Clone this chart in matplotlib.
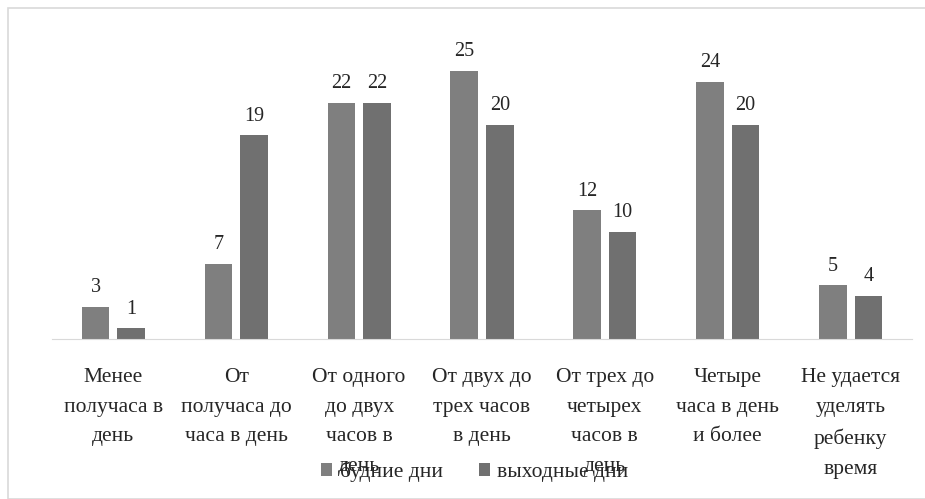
import matplotlib.pyplot as plt
import numpy as np
from matplotlib.patches import Rectangle

categories = [
    "Менее\nполучаса в\nдень",
    "От\nполучаса до\nчаса в день",
    "От одного\nдо двух\nчасов в\nдень",
    "От двух до\nтрех часов\nв день",
    "От трех до\nчетырех\nчасов в\nдень",
    "Четыре\nчаса в день\nи более",
    "Не удается\nуделять\nребенку\nвремя",
]
weekdays = [3, 7, 22, 25, 12, 24, 5]
weekends = [1, 19, 22, 20, 10, 20, 4]
series_names = ["будние дни", "выходные дни"]

plt.rcParams["font.family"] = "serif"
plt.rcParams["font.serif"] = ["Liberation Serif", "Times New Roman", "DejaVu Serif"]

fig = plt.figure(figsize=(9.25, 4.99), dpi=100)
fig.patches.append(Rectangle((8 / 925, 0), 1, (499 - 8) / 499, transform=fig.transFigure,
                             fill=False, edgecolor="#d9d9d9", linewidth=1.2))

# axes in pixels: x 52..912, baseline y=339
ax = fig.add_axes([52 / 925, (499 - 339) / 499, 860 / 925, 300 / 499])
x = np.arange(len(categories))
w = 0.225
gap = 0.065
c1, c2 = "#7f7f7f", "#707070"
b1 = ax.bar(x - (w + gap) / 2, weekdays, w, color=c1, label=series_names[0])
b2 = ax.bar(x + (w + gap) / 2, weekends, w, color=c2, label=series_names[1])
for bars in (b1, b2):
    ax.bar_label(bars, padding=7, fontsize=14.5, color="#262626")

ax.set_xlim(-0.5, len(categories) - 0.5)
ax.set_ylim(0, 300 / 10.72)
ax.set_yticks([])
for s in ("top", "right", "left"):
    ax.spines[s].set_visible(False)
ax.spines["bottom"].set_color("#d9d9d9")
ax.set_xticks(x)
ax.set_xticklabels(categories, fontsize=15.5, color="#262626", linespacing=1.76, va="top")
ax.tick_params(axis="x", length=0, pad=21)

fig.legend(handles=[b1, b2], labels=series_names, loc="center", bbox_to_anchor=(475 / 925, 1 - 472 / 499),
           ncol=2, frameon=False, fontsize=15.5, handlelength=0.5, handleheight=0.5,
           handletextpad=0.35, columnspacing=1.7, labelcolor="#262626")

fig.savefig("out.png", dpi=100)
